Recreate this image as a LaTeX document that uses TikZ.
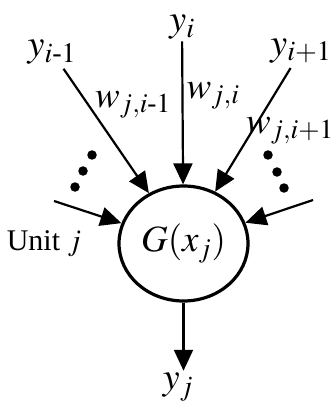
\documentclass[tikz,border=0pt]{standalone}
\usepackage{amsmath}
\usepackage{mathptmx}
\usepackage{fontspec}
\setmainfont{Liberation Serif}
\usepackage{tikz}
\usetikzlibrary{shapes.geometric, arrows.meta, positioning}
\definecolor{myink}{RGB}{0,0,0}
\tikzset{
  unitnode/.style={ellipse, draw=myink, line width=3.2pt,
    minimum width=129pt, minimum height=115pt, inner sep=0pt,
    font=\fontsize{37}{42}\selectfont},
  lbl/.style={inner sep=2pt, font=\fontsize{38}{43}\selectfont},
  wlbl/.style={inner sep=0pt, font=\fontsize{37}{42}\selectfont},
  txt/.style={inner sep=0pt, font=\fontsize{30}{34}\selectfont},
  bigdot/.style={circle, fill=myink, inner sep=0pt, minimum size=9.5pt},
  arrow/.style={-{Triangle[length=21pt, width=19pt]}, line width=2.2pt, color=myink}
}

\begin{document}
\begin{tikzpicture}[x=1pt, y=-1pt]
  \useasboundingbox (0,0) rectangle (335,403);
  \node[unitnode] (unit) at (183.5,243.5) {$G(x_j)$};

  \node[lbl] (yi) at (182,27) {$y_i$};
  \node[lbl] (yim) at (52,52) {$y_{i\text{-}1}$};
  \node[lbl] (yip) at (301,51) {$y_{i{+}1}$};

  \node[wlbl] (wim) at (133,105) {$w_{j,i\text{-}1}$};
  \node[wlbl] (wi) at (213,96) {$w_{j,i}$};
  \node[wlbl, anchor=east] (wip) at (334,131) {$w_{j,i{+}1}$};

  \node[txt] (unitlbl) at (44,244) {Unit $j$};
  \node[lbl] (yj) at (178,387) {$y_j$};

  \draw[arrow, shorten <=3pt] (yim) -- (unit);
  \draw[arrow] (yi) -- (unit);
  \draw[arrow, shorten <=3pt] (yip) -- (unit);

  \coordinate (sl) at (54,201);
  \coordinate (sr) at (313,200);
  \draw[arrow] (sl) -- (unit);
  \draw[arrow] (sr) -- (unit);

  \draw[arrow] (unit) -- (unit |- yj.north);

  % the dots for the other inputs
  \node[bigdot] (dl1) at (92,155) {};
  \node[bigdot] (dl2) at (83,171) {};
  \node[bigdot] (dl3) at (75,187) {};
  \node[bigdot] (dr1) at (268,155) {};
  \node[bigdot] (dr2) at (277,172) {};
  \node[bigdot] (dr3) at (284,188) {};
\end{tikzpicture}
\end{document}
